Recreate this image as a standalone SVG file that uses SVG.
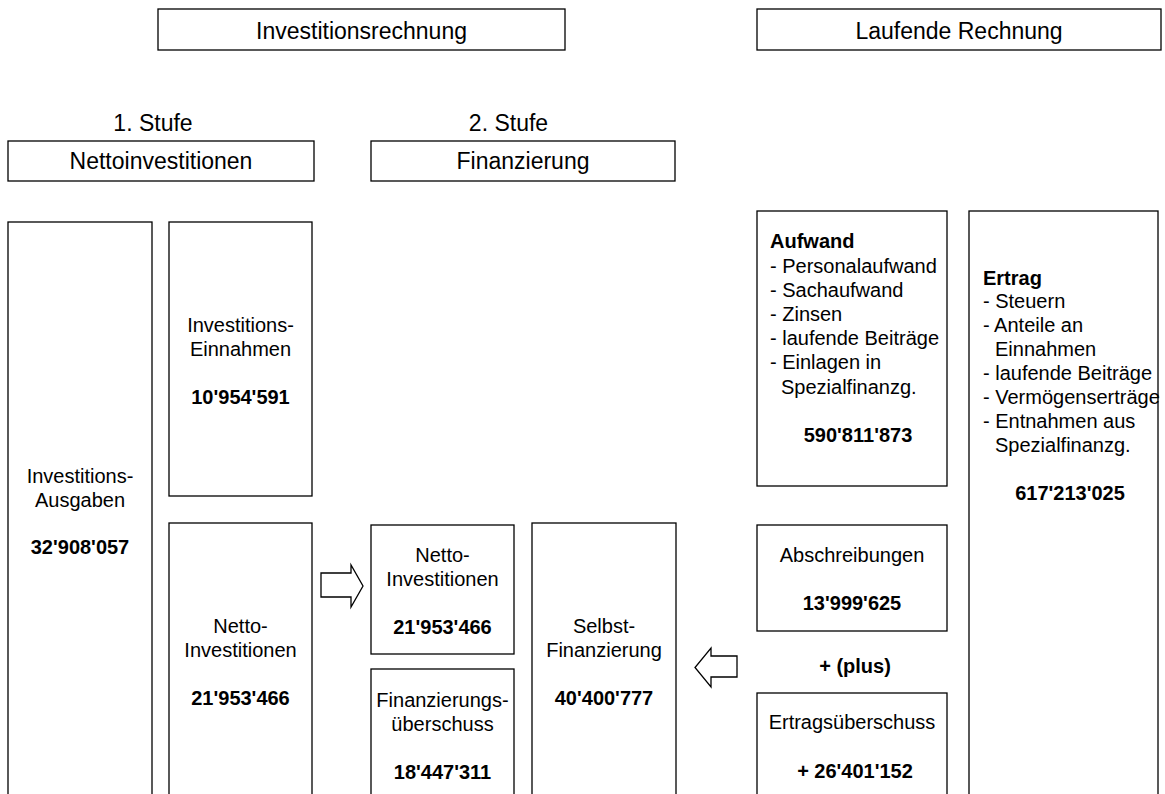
<svg xmlns="http://www.w3.org/2000/svg" width="1165" height="794" viewBox="0 0 1165 794">
<style>
rect.b{fill:#fff;stroke:#000;stroke-width:1.3}
text{font-family:"Liberation Sans",Arial,sans-serif;fill:#000}
.h{font-size:23px;text-anchor:middle}
.t{font-size:20px;text-anchor:middle}
.l{font-size:20px}
.n{font-weight:bold}
.arrow{fill:#fff;stroke:#000;stroke-width:1.3;stroke-linejoin:miter}
</style>
<rect width="1165" height="794" fill="#fff"/>
<g id="investitionsrechnung"><rect class="b" x="158" y="9" width="407" height="41"/><text class="h" x="361.5" y="38.5">Investitionsrechnung</text></g>
<g id="laufende-rechnung"><rect class="b" x="757" y="9" width="404" height="41"/><text class="h" x="959" y="38.5">Laufende Rechnung</text></g>
<g id="stufe1"><text class="h" x="153" y="131">1. Stufe</text></g>
<g id="stufe2"><text class="h" x="508.5" y="131">2. Stufe</text></g>
<g id="nettoinvestitionen-header"><rect class="b" x="8" y="141" width="306" height="40"/><text class="h" x="161" y="169">Nettoinvestitionen</text></g>
<g id="finanzierung-header"><rect class="b" x="371" y="141" width="304" height="40"/><text class="h" x="523" y="169">Finanzierung</text></g>
<g id="investitions-ausgaben"><rect class="b" x="8" y="222" width="144" height="590"/>
<text class="t" x="80" y="483">Investitions-</text><text class="t" x="80" y="507">Ausgaben</text><text class="t n" x="80" y="554">32'908'057</text></g>
<g id="investitions-einnahmen"><rect class="b" x="169" y="222" width="143" height="274"/>
<text class="t" x="240.5" y="332">Investitions-</text><text class="t" x="240.5" y="356">Einnahmen</text><text class="t n" x="240.5" y="404">10'954'591</text></g>
<g id="netto-investitionen-1"><rect class="b" x="169" y="523" width="143" height="290"/>
<text class="t" x="240.5" y="633">Netto-</text><text class="t" x="240.5" y="657">Investitionen</text><text class="t n" x="240.5" y="705">21'953'466</text></g>
<g id="netto-investitionen-2"><rect class="b" x="371" y="525" width="143" height="129"/>
<text class="t" x="442.5" y="562">Netto-</text><text class="t" x="442.5" y="586">Investitionen</text><text class="t n" x="442.5" y="634">21'953'466</text></g>
<g id="finanzierungsueberschuss"><rect class="b" x="371" y="669" width="143" height="145"/>
<text class="t" x="442.5" y="707">Finanzierungs-</text><text class="t" x="442.5" y="731">überschuss</text><text class="t n" x="442.5" y="779">18'447'311</text></g>
<g id="selbstfinanzierung"><rect class="b" x="532" y="523" width="144" height="290"/>
<text class="t" x="604" y="633">Selbst-</text><text class="t" x="604" y="657">Finanzierung</text><text class="t n" x="604" y="705">40'400'777</text></g>
<g id="aufwand"><rect class="b" x="757" y="211" width="190" height="275"/>
<text class="l n" x="770" y="248">Aufwand</text>
<text class="l" x="770" y="273">- Personalaufwand</text>
<text class="l" x="770" y="297">- Sachaufwand</text>
<text class="l" x="770" y="321">- Zinsen</text>
<text class="l" x="770" y="345">- laufende Beiträge</text>
<text class="l" x="770" y="369">- Einlagen in</text>
<text class="l" x="781" y="394">Spezialfinanzg.</text>
<text class="t n" x="858" y="442">590'811'873</text></g>
<g id="ertrag"><rect class="b" x="969" y="211" width="189" height="600"/>
<text class="l n" x="983" y="285">Ertrag</text>
<text class="l" x="983" y="308">- Steuern</text>
<text class="l" x="983" y="332">- Anteile an</text>
<text class="l" x="995" y="356">Einnahmen</text>
<text class="l" x="983" y="380">- laufende Beiträge</text>
<text class="l" x="983" y="404">- Vermögenserträge</text>
<text class="l" x="983" y="428">- Entnahmen aus</text>
<text class="l" x="995" y="452">Spezialfinanzg.</text>
<text class="t n" x="1070" y="500">617'213'025</text></g>
<g id="abschreibungen"><rect class="b" x="757" y="525" width="190" height="106"/>
<text class="t" x="852" y="562">Abschreibungen</text><text class="t n" x="852" y="610">13'999'625</text></g>
<g id="plus"><text class="t n" x="855" y="673">+ (plus)</text></g>
<g id="ertragsueberschuss"><rect class="b" x="757" y="693" width="190" height="120"/>
<text class="t" x="852" y="729">Ertragsüberschuss</text><text class="t n" x="855" y="778">+ 26'401'152</text></g>
<g id="connectors">
<path class="arrow" d="M321 573 H351 V565 L363 586 L351 607 V597 H321 Z"/>
<path class="arrow" d="M737 656 H711 V648 L695 667.5 L711 687 V677 H737 Z"/>
</g>
</svg>
